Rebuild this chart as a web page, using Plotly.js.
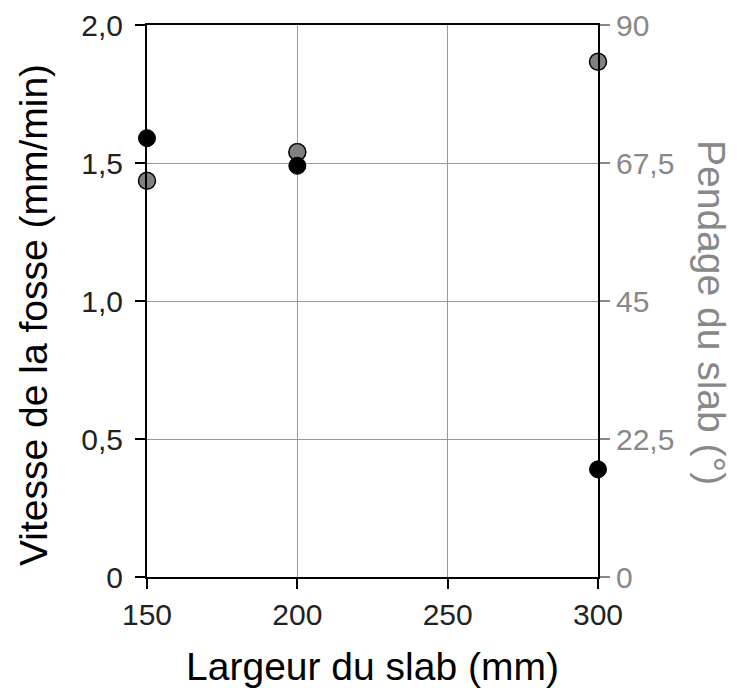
<!DOCTYPE html>
<html>
<head>
<meta charset="utf-8">
<script src="https://cdn.plot.ly/plotly-3.0.1.min.js"></script>
<style>html,body{margin:0;padding:0;background:#fff;}</style>
</head>
<body>
<div id="chart" style="width:737px;height:688px;"></div>
<script>
const slabWidth = [150, 200, 300];
const trenchSpeed = [1.59, 1.49, 0.39];      // mm/min (left axis)
const slabDip = [64.6, 69.3, 84.0];           // degrees (right axis)
const xTicks = [150, 200, 250, 300];
const leftTickVals = [0, 0.5, 1.0, 1.5, 2.0];
const leftTickText = ['0', '0,5', '1,0', '1,5', '2,0'];
const rightTickVals = [0, 22.5, 45, 67.5, 90];
const rightTickText = ['0', '22,5', '45', '67,5', '90'];

const FONT = 'Liberation Sans, Arial, Helvetica, sans-serif';

const traces = [
  {
    x: slabWidth, y: slabDip, yaxis: 'y', type: 'scatter', mode: 'markers',
    name: 'Pendage du slab',
    marker: {size: 17, color: '#808080', line: {color: '#000', width: 1.5}},
    cliponaxis: false, showlegend: false
  },
  {
    x: slabWidth, y: trenchSpeed, yaxis: 'y2', type: 'scatter', mode: 'markers',
    name: 'Vitesse de la fosse',
    marker: {size: 17, color: '#000', line: {color: '#000', width: 1}},
    cliponaxis: false, showlegend: false
  }
];

const layout = {
  width: 737, height: 688,
  margin: {l: 147, r: 139, t: 25, b: 111},
  paper_bgcolor: '#fff', plot_bgcolor: '#fff',
  font: {family: FONT, color: '#000'},
  xaxis: {
    range: [150, 300], tickvals: xTicks, ticktext: xTicks.map(String),
    showgrid: true, gridcolor: '#999', gridwidth: 1,
    showline: true, linecolor: '#000', linewidth: 2, mirror: true,
    ticks: 'outside', ticklen: 10, tickwidth: 2, tickcolor: '#000',
    tickfont: {size: 30, color: '#222'},
    zeroline: false,
    title: {text: 'Largeur du slab (mm)', font: {size: 39, color: '#000'}}
  },
  yaxis: {
    side: 'right', range: [0, 90], tickvals: rightTickVals, ticktext: rightTickText,
    showgrid: false,
    showline: true, linecolor: '#000', linewidth: 2,
    ticks: 'outside', ticklen: 10, tickwidth: 2, tickcolor: '#888',
    tickfont: {size: 30, color: '#888'},
    zeroline: false
  },
  yaxis2: {
    side: 'left', overlaying: 'y', range: [0, 2.0],
    tickvals: leftTickVals, ticktext: leftTickText,
    showgrid: true, gridcolor: '#999', gridwidth: 1,
    showline: true, linecolor: '#000', linewidth: 2,
    ticks: 'outside', ticklen: 10, tickwidth: 2, tickcolor: '#000',
    tickfont: {size: 30, color: '#222'},
    ticklabelstandoff: 6,
    zeroline: false
  },
  annotations: [
    {
      text: 'Vitesse de la fosse (mm/min)', xref: 'paper', yref: 'paper',
      x: 0, xanchor: 'center', yanchor: 'middle', xshift: -114, y: 0.5, yshift: -14,
      textangle: -90, showarrow: false,
      font: {size: 39, color: '#000', family: FONT}
    },
    {
      text: 'Pendage du slab (°)', xref: 'paper', yref: 'paper',
      x: 1, xanchor: 'center', yanchor: 'middle', xshift: 114, y: 0.5, yshift: -11,
      textangle: 90, showarrow: false,
      font: {size: 39, color: '#888', family: FONT}
    }
  ]
};

Plotly.newPlot('chart', traces, layout, {displayModeBar: false, staticPlot: true});
</script>
</body>
</html>
